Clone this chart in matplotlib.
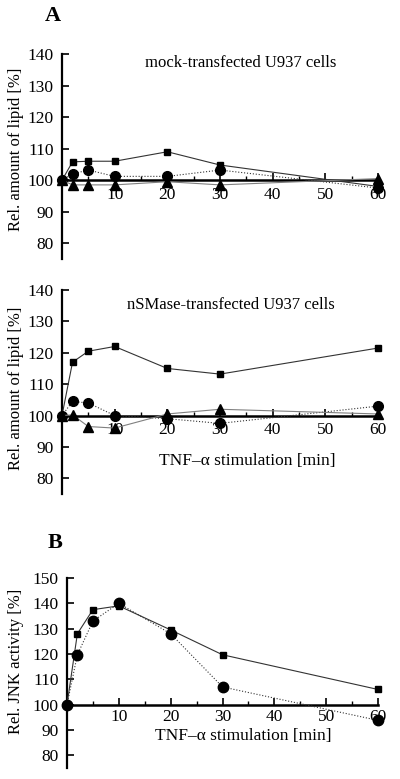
import matplotlib
matplotlib.use("Agg")
import matplotlib.pyplot as plt
import matplotlib.ticker as mticker

plt.rcParams["font.family"] = ["Liberation Serif", "DejaVu Serif"]

# ── Data ──────────────────────────────────────────────────────────────────
time_min = [0, 2, 5, 10, 20, 30, 60]

mock_sq  = [100, 105.8, 106, 106, 109, 104.8, 98]
mock_ci  = [100, 102, 103.2, 101.2, 101.2, 103.2, 97.5]
mock_tr  = [100, 98.5, 98.5, 98.5, 99.5, 98.5, 100.5]

nsm_sq   = [100, 117, 120.5, 122, 115, 113.2, 121.5]
nsm_ci   = [100, 104.5, 104, 100, 99, 97.5, 103]
nsm_tr   = [100, 100.2, 96.5, 96, 100.5, 102, 100.5]

jnk_sq   = [100, 128, 137.5, 139, 129.5, 119.7, 106]
jnk_ci   = [100, 119.7, 133, 140, 128, 107, 93.8]

lipid_yticks = [80, 90, 100, 110, 120, 130, 140]
jnk_yticks   = [80, 90, 100, 110, 120, 130, 140, 150]
x_ticks      = [10, 20, 30, 40, 50, 60]

W, H = 400, 779
fig = plt.figure(figsize=(W / 100, H / 100), dpi=100)


def _axes(left_px, right_px, top_px, bottom_px):
    return fig.add_axes([left_px / W, 1 - bottom_px / H,
                         (right_px - left_px) / W, (bottom_px - top_px) / H])


def _style(ax, ylim, yticks, xpad=3):
    ax.set_xlim(0, 60)
    ax.set_ylim(*ylim)
    for s in ("top", "right"):
        ax.spines[s].set_visible(False)
    ax.spines["left"].set_position(("data", 0))
    ax.spines["bottom"].set_position(("data", 100))
    ax.spines["left"].set_linewidth(1.6)
    ax.spines["bottom"].set_linewidth(1.8)
    ax.set_yticks(yticks)
    ax.set_xticks(x_ticks)
    ax.xaxis.set_minor_locator(mticker.MultipleLocator(5))
    ax.tick_params(axis="y", direction="in", length=5, width=1.2,
                   labelsize=12.5, pad=6)
    ax.tick_params(axis="x", which="major", direction="in", length=5,
                   width=1.2, labelsize=12.5, pad=xpad)
    ax.tick_params(axis="x", which="minor", direction="in", length=3,
                   width=1.0)
    ax.patch.set_visible(False)


def _series(ax, y, marker, ms, ls, color):
    ax.plot(time_min, y, marker=marker, markersize=ms, color=color,
            markerfacecolor="black", markeredgecolor="black",
            linestyle=ls, linewidth=0.8, clip_on=False, zorder=3)


# Panel A, top: mock-transfected
ax1 = _axes(62, 378, 54, 259)
_style(ax1, (75, 140), lipid_yticks, xpad=5)
_series(ax1, mock_sq, "s", 5, "-", "0.2")
_series(ax1, mock_ci, "o", 7, ":", "0.2")
_series(ax1, mock_tr, "^", 7, "-", "0.5")
ax1.text(34, 137, "mock-transfected U937 cells", ha="center", va="center",
         fontsize=12)
ax1.set_ylabel("Rel. amount of lipid [%]", fontsize=12)
ax1.yaxis.set_label_coords(-0.12, 0.537)

# Panel A, bottom: nSMase-transfected
ax2 = _axes(62, 378, 290, 494)
_style(ax2, (75, 140), lipid_yticks, xpad=5)
_series(ax2, nsm_sq, "s", 5, "-", "0.2")
_series(ax2, nsm_ci, "o", 7, ":", "0.2")
_series(ax2, nsm_tr, "^", 7, "-", "0.5")
ax2.text(32, 135.2, "nSMase-transfected U937 cells", ha="center",
         va="center", fontsize=12)
ax2.text(35.2, 85.6, "TNF\u2013\u03b1 stimulation [min]", ha="center",
         va="center", fontsize=12.5)
ax2.set_ylabel("Rel. amount of lipid [%]", fontsize=12)
ax2.yaxis.set_label_coords(-0.12, 0.517)

# Panel B: JNK activity
ax3 = _axes(67, 378, 578, 768)
_style(ax3, (75, 150), jnk_yticks, xpad=3)
_series(ax3, jnk_sq, "s", 5, "-", "0.2")
_series(ax3, jnk_ci, "o", 7.5, ":", "0.2")
ax3.text(34, 87.6, "TNF\u2013\u03b1 stimulation [min]", ha="center",
         va="center", fontsize=12.5)
ax3.set_ylabel("Rel. JNK activity [%]", fontsize=12)
ax3.yaxis.set_label_coords(-0.138, 0.563)

fig.text(53 / W, 1 - 16 / H, "A", fontsize=16, fontweight="bold",
         ha="center", va="center")
fig.text(55 / W, 1 - 543 / H, "B", fontsize=16, fontweight="bold",
         ha="center", va="center")

fig.savefig("out.png", dpi=100)
